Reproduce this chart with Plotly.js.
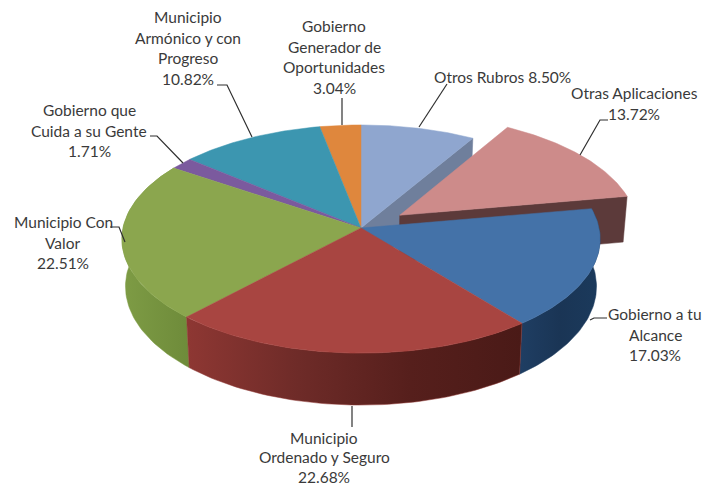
<!DOCTYPE html>
<html>
<head>
<meta charset="utf-8">
<script src="https://cdn.plot.ly/plotly-3.0.1.min.js"></script>
<style>html,body{margin:0;padding:0;background:#fff}#c{width:706px;height:487px}</style>
</head>
<body>
<div id="c"></div>
<script>
// --- data (clockwise from 12 o'clock) ---
const labelLines = [
  ['Otros Rubros'],
  ['Otras Aplicaciones'],
  ['Gobierno a tu', 'Alcance'],
  ['Municipio', 'Ordenado y Seguro'],
  ['Municipio Con', 'Valor'],
  ['Gobierno que', 'Cuida a su Gente'],
  ['Municipio', 'Armónico y con', 'Progreso'],
  ['Gobierno', 'Generador de', 'Oportunidades']
];
const values = [8.50, 13.72, 17.03, 22.68, 22.51, 1.71, 10.82, 3.04];
const topColors = ['#8FA6CF', '#CD8B8A', '#4472A8', '#A84541', '#8BA64E', '#7B5A9E', '#3C96B0', '#DF873D'];
const explode = [0, 0.2, 0, 0, 0, 0, 0, 0];

// --- view of the tilted disc, in the axis units ---
const view = {x0: 361, y0: 228, A: 238, B: 113, k: 0.0965, depth: 47, shrink: 0.015};

const total = values.reduce((a, b) => a + b, 0);
const starts = [];
values.reduce((acc, v, i) => (starts[i] = acc, acc + v), 0);

function proj(u, v, h) {
  const s = 1 / (1 + view.k * v);
  return [view.x0 + view.A * u * s * (1 - view.shrink * h), view.y0 - view.B * v * s + view.depth * h * s];
}
function offset(i) {
  const mid = (starts[i] + values[i] / 2) / total * 2 * Math.PI;
  return [explode[i] * Math.sin(mid), explode[i] * Math.cos(mid)];
}
function rim(i, h, n) {
  const [ou, ov] = offset(i), pts = [];
  for (let j = 0; j <= n; j++) {
    const a = (starts[i] + values[i] * j / n) / total * 2 * Math.PI;
    pts.push(proj(ou + Math.sin(a), ov + Math.cos(a), h));
  }
  return pts;
}
function poly(pts, color, grad) {
  const t = {
    type: 'scatter', mode: 'lines', x: pts.map(p => p[0]).concat(pts[0][0]), y: pts.map(p => p[1]).concat(pts[0][1]),
    fill: 'toself', line: {width: 0.5, color: color}, fillcolor: color, hoverinfo: 'skip', showlegend: false
  };
  if (grad) {
    t.fillgradient = {type: 'horizontal', colorscale: grad.map((c, j) => [j / (grad.length - 1), c])};
  }
  return t;
}
const topFace = i => {
  const [ou, ov] = offset(i);
  return poly([proj(ou, ov, 0)].concat(rim(i, 0, 60)), topColors[i]);
};
const outerWall = (i, grad) => poly(rim(i, 0, 60).concat(rim(i, 1, 60).reverse()), grad[0], grad);
// flat cut face on the start (end=false) or finishing (end=true) edge of a slice
const cutWall = (i, end, color) => {
  const [ou, ov] = offset(i);
  const r0 = rim(i, 0, 1), r1 = rim(i, 1, 1), k = end ? 1 : 0;
  return poly([proj(ou, ov, 0), r0[k], r1[k], proj(ou, ov, 1)], color);
};

const traces = [
  cutWall(0, true, '#6F7F9C'),
  topFace(0), topFace(7), topFace(6), topFace(5),
  outerWall(4, ['#7E9C45', '#6E8B3A']), topFace(4),
  cutWall(1, true, '#5C3A3A'), topFace(1),
  outerWall(2, ['#1F3E63', '#1A3555', '#1B3A5C']), topFace(2),
  outerWall(3, ['#8E3733', '#6E2B28', '#561F1C', '#4A1A17']), topFace(3)
];

// --- leader lines, axis units ---
const leaders = [
  [[419, 127], [447, 84]],
  [[580, 155], [600, 120], [608, 120]],
  [[590, 320], [594, 318], [607, 318]],
  [[352, 406], [352, 427]],
  [[125, 242], [119, 227], [110, 227]],
  [[183, 163], [157, 136], [150, 136]],
  [[252, 137], [227, 85], [217, 85]],
  [[342, 125], [342, 98]]
];
leaders.forEach(l => traces.push({
  type: 'scatter', mode: 'lines', x: l.map(p => p[0]), y: l.map(p => p[1]),
  line: {color: '#2F2F2F', width: 1.2}, hoverinfo: 'skip', showlegend: false
}));

// --- label placement: centre x, first line y, line spacing ---
const labelAt = [[502, 77, 20.7], [634, 93, 21], [655, 314, 20.7], [324, 438, 19.4], [63, 222, 20.7], [89, 110, 20.7], [188, 17, 20.7], [334, 26, 20.7]];
const annotations = [];
labelLines.forEach((lines, i) => {
  const pct = values[i].toFixed(2) + '%';
  const rows = i === 0 ? [lines[0] + ' ' + pct] : lines.concat(pct);
  rows.forEach((row, j) => annotations.push({
    xref: 'x', yref: 'y', x: labelAt[i][0], y: labelAt[i][1] + j * labelAt[i][2], text: row, showarrow: false,
    xanchor: 'center', yanchor: 'middle', font: {family: 'Lato, "Open Sans", sans-serif', size: 15.5, color: '#3A3A3A'}
  }));
});

const hidden = {visible: false, fixedrange: true};
Plotly.newPlot('c', traces, {
  width: 706, height: 487, margin: {l: 0, r: 0, t: 0, b: 0},
  paper_bgcolor: '#fff', plot_bgcolor: '#fff', showlegend: false,
  xaxis: Object.assign({range: [0, 706]}, hidden),
  yaxis: Object.assign({range: [487, 0]}, hidden),
  annotations: annotations
}, {staticPlot: true, displayModeBar: false});
</script>
</body>
</html>
